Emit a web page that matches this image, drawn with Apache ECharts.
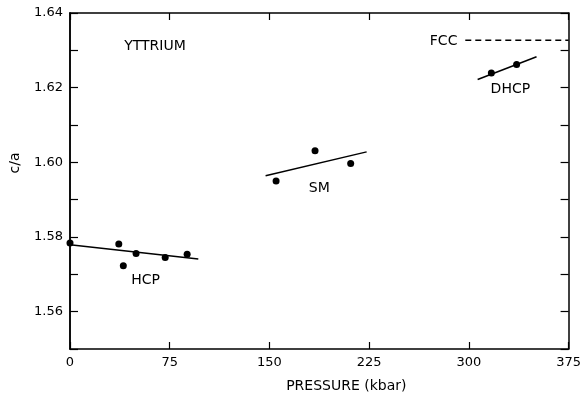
<!DOCTYPE html>
<html lang="en">
  <head>
    <meta charset="UTF-8" />
    <title>Yttrium c/a</title>
    <style>
      body {
        margin: 0;
        background: #fff;
      }
      #chart {
        width: 584px;
        height: 398px;
      }
    </style>
  </head>
  <body>
    <div id="chart"></div>
    <script src="https://cdn.jsdelivr.net/npm/echarts@6/dist/echarts.min.js"></script>
    <script>
      // measured points, [pressure kbar, c/a]
      const hcpPoints = [
        [0, 1.5784],
        [36.7, 1.5781],
        [40.1, 1.5723],
        [49.7, 1.5756],
        [71.6, 1.5745],
        [88.1, 1.5754],
      ];
      const smPoints = [
        [155.0, 1.595],
        [184.3, 1.6031],
        [211.1, 1.5997],
      ];
      const dhcpPoints = [
        [316.9, 1.6239],
        [335.9, 1.6262],
      ];
      // fitted lines (end points)
      const hcpFit = [
        [0, 1.5779],
        [96.5, 1.5741],
      ];
      const smFit = [
        [147.1, 1.5964],
        [223.1, 1.6028],
      ];
      const dhcpFit = [
        [306.6, 1.6222],
        [350.9, 1.6283],
      ];
      const fccLine = [
        [297.3, 1.6327],
        [375, 1.6327],
      ];
      // text annotations [x, y, text]
      const notes = [
        [63.9, 1.631, "YTTRIUM"],
        [281, 1.6325, "FCC"],
        [331.2, 1.6196, "DHCP"],
        [187.5, 1.593, "SM"],
        [56.8, 1.5683, "HCP"],
      ];
      const xTicks = [0, 75, 150, 225, 300, 375];

      const font = "'DejaVu Sans', sans-serif";
      const ink = "#000";

      const chart = echarts.init(document.querySelector("#chart"));

      const fitLine = (data, dashed) => ({
        type: "line",
        data: data,
        symbol: "none",
        silent: true,
        lineStyle: { color: ink, width: 1.5, type: dashed ? [6, 4] : "solid" },
        z: 3,
      });

      const dots = (data) => ({
        type: "scatter",
        data: data,
        symbolSize: 7,
        itemStyle: { color: ink, opacity: 1 },
        z: 4,
      });

      const frameAxis = (pos) => ({
        type: "value",
        position: pos,
        min: 1.55,
        max: 1.64,
        interval: 0.01,
        axisLine: { show: true, onZero: false, lineStyle: { color: ink, width: 1.5 } },
        axisTick: { show: true, inside: true, length: 8, lineStyle: { color: ink, width: 1.2 } },
        axisLabel: { show: false },
        splitLine: { show: false },
      });

      chart.setOption({
        animation: false,
        grid: { left: 69, right: 7, top: 13, bottom: 46 },
        xAxis: [
          {
            type: "value",
            min: 0,
            max: 375,
            interval: 75,
            name: "PRESSURE (kbar)",
            nameLocation: "middle",
            nameGap: 30,
            nameTextStyle: { fontFamily: font, fontSize: 14, color: ink, padding: [0, 0, 0, 54] },
            axisLine: { onZero: false, lineStyle: { color: ink, width: 1.5 } },
            axisTick: { inside: true, length: 7, lineStyle: { color: ink, width: 1.2 } },
            axisLabel: {
              fontFamily: font,
              fontSize: 13,
              color: ink,
              margin: 7,
              formatter: (v) => (xTicks.includes(v) ? String(v) : ""),
            },
            splitLine: { show: false },
          },
          {
            type: "value",
            position: "top",
            min: 0,
            max: 375,
            interval: 75,
            axisLine: { show: true, onZero: false, lineStyle: { color: ink, width: 1.5 } },
            axisTick: { show: true, inside: true, length: 7, lineStyle: { color: ink, width: 1.2 } },
            axisLabel: { show: false },
            splitLine: { show: false },
          },
        ],
        yAxis: [
          {
            type: "value",
            position: "left",
            min: 1.55,
            max: 1.64,
            interval: 0.01,
            name: "c/a",
            nameLocation: "middle",
            nameGap: 48,
            nameRotate: 90,
            nameTextStyle: { fontFamily: font, fontSize: 14, color: ink, padding: [0, 0, 0, 36] },
            axisLine: { show: true, onZero: false, lineStyle: { color: ink, width: 1.5 } },
            axisTick: { show: false },
            axisLabel: {
              fontFamily: font,
              fontSize: 13,
              color: ink,
              margin: 7,
              showMinLabel: true,
              showMaxLabel: true,
              formatter: (v) => {
                const k = Math.round(v * 100);
                return k % 2 === 0 ? (k / 100).toFixed(2) : "";
              },
            },
            splitLine: { show: false },
          },
          frameAxis("right"),
          frameAxis("left"),
        ],
        series: [
          fitLine(hcpFit),
          fitLine(smFit),
          fitLine(dhcpFit),
          fitLine(fccLine, true),
          dots(hcpPoints),
          dots(smPoints),
          dots(dhcpPoints),
          {
            type: "scatter",
            data: notes,
            symbolSize: 0,
            silent: true,
            itemStyle: { opacity: 1 },
            label: {
              show: true,
              position: "inside",
              formatter: (p) => p.data[2],
              fontFamily: font,
              fontSize: 14,
              color: ink,
            },
            z: 5,
          },
        ],
      });
    </script>
  </body>
</html>
